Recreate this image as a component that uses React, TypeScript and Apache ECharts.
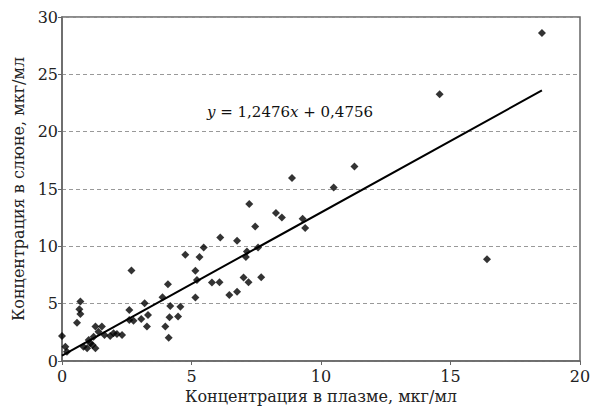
import React, { useEffect, useRef } from "react";
import * as echarts from "echarts";

const plasma = [
  8.88, 11.29, 10.49, 7.23, 8.26, 8.49, 9.29, 9.39, 7.46, 6.11, 6.76, 5.47, 4.76, 5.31,
  7.14, 7.1, 7.57, 5.15, 5.21, 5.79, 6.08, 7.01, 7.2, 7.69, 5.15, 6.46, 6.76, 4.57,
  0.0, 0.13, 0.19, 0.58, 0.71, 0.67, 0.71, 2.68, 2.6, 2.6, 2.76, 3.19, 3.06, 3.32,
  3.28, 3.88, 4.09, 4.18, 4.15, 4.48, 3.99, 4.12, 1.29, 1.54, 1.41, 1.64, 1.22, 1.03,
  1.18, 0.83, 0.97, 1.29, 1.09, 1.99, 2.12, 2.32, 1.86, 18.53, 14.58, 16.41,
];
const saliva = [
  15.96, 16.97, 15.14, 13.69, 12.9, 12.52, 12.4, 11.59, 11.73, 10.77, 10.48, 9.9, 9.26, 9.06,
  9.55, 9.06, 9.9, 7.86, 7.07, 6.84, 6.87, 7.28, 6.87, 7.31, 5.53, 5.76, 6.05, 4.74,
  2.18, 1.25, 0.81, 3.34, 5.18, 4.52, 4.1, 7.89, 4.45, 3.58, 3.52, 5.04, 3.67, 4.02,
  3.0, 5.56, 6.7, 4.8, 3.82, 3.87, 3.0, 2.03, 3.0, 3.0, 2.56, 2.27, 2.12, 1.83,
  1.4, 1.25, 1.11, 1.11, 1.55, 2.42, 2.36, 2.27, 2.18, 28.6, 23.26, 8.88,
];
const slope = 1.2476;
const intercept = 0.4756;
const xTicks = [0, 5, 10, 15, 20];
const yTicks = [0, 5, 10, 15, 20, 25, 30];
const xTitle = "Концентрация в плазме, мкг/мл";
const yTitle = "Концентрация в слюне, мкг/мл";

export default function App() {
  const ref = useRef<HTMLDivElement>(null);
  useEffect(() => {
    if (!ref.current) return;
    const chart = echarts.init(ref.current, null, { renderer: "svg" });
    const pts = plasma.map((x, i) => [x, saliva[i]]);
    const xMin = Math.min(...plasma);
    const xMax = Math.max(...plasma);
    const trend = [
      [xMin, slope * xMin + intercept],
      [xMax, slope * xMax + intercept],
    ];
    const font = "DejaVu Serif";
    chart.setOption({
      animation: false,
      backgroundColor: "#fff",
      textStyle: { fontFamily: font },
      grid: {
        left: 62, right: 10, top: 17, bottom: 45,
        outerBoundsMode: "none", containLabel: false,
        show: true, borderColor: "#666", borderWidth: 1.5,
      },
      xAxis: {
        type: "value",
        min: xTicks[0],
        max: xTicks[xTicks.length - 1],
        interval: 5,
        axisLine: { show: true, onZero: false, lineStyle: { color: "#666", width: 1.5 } },
        axisTick: { show: true, length: 4, lineStyle: { color: "#666" } },
        splitLine: { show: false },
        axisLabel: { color: "#222", fontFamily: font, fontSize: 16, margin: 7 },
        name: xTitle,
        nameLocation: "middle",
        nameGap: 20,
        nameTextStyle: { color: "#222", fontFamily: font, fontSize: 16 },
      },
      yAxis: {
        type: "value",
        min: yTicks[0],
        max: yTicks[yTicks.length - 1],
        interval: 5,
        axisLine: { show: true, lineStyle: { color: "#666", width: 1.5 } },
        axisTick: { show: true, length: 4, lineStyle: { color: "#666" } },
        splitLine: { show: true, lineStyle: { color: "#999", type: [4, 3], width: 1.2 } },
        axisLabel: { color: "#222", fontFamily: font, fontSize: 16, margin: 4 },
        name: yTitle,
        nameLocation: "middle",
        nameGap: 29,
        nameTextStyle: { color: "#222", fontFamily: font, fontSize: 16 },
      },
      series: [
        {
          type: "line",
          data: trend,
          symbol: "none",
          lineStyle: { color: "#000", width: 2 },
          z: 3,
        },
        {
          type: "scatter",
          data: pts,
          symbol: "diamond",
          symbolSize: 8,
          itemStyle: { color: "#000" },
          z: 4,
        },
      ],
      graphic: [
        {
          type: "text",
          x: 290,
          y: 112,
          style: {
            align: "center",
            verticalAlign: "middle",
            rich: {
              i: { fontFamily: font, fontSize: 15, fontStyle: "italic", fill: "#111" },
              n: { fontFamily: font, fontSize: 15, fill: "#111" },
            },
            text: "{i|y}{n| = 1,2476}{i|x}{n| + 0,4756}",
          },
        },
      ],
    });
    return () => chart.dispose();
  }, []);
  return <div ref={ref} style={{ width: 590, height: 406, position: "absolute", left: 0, top: 0 }} />;
}
